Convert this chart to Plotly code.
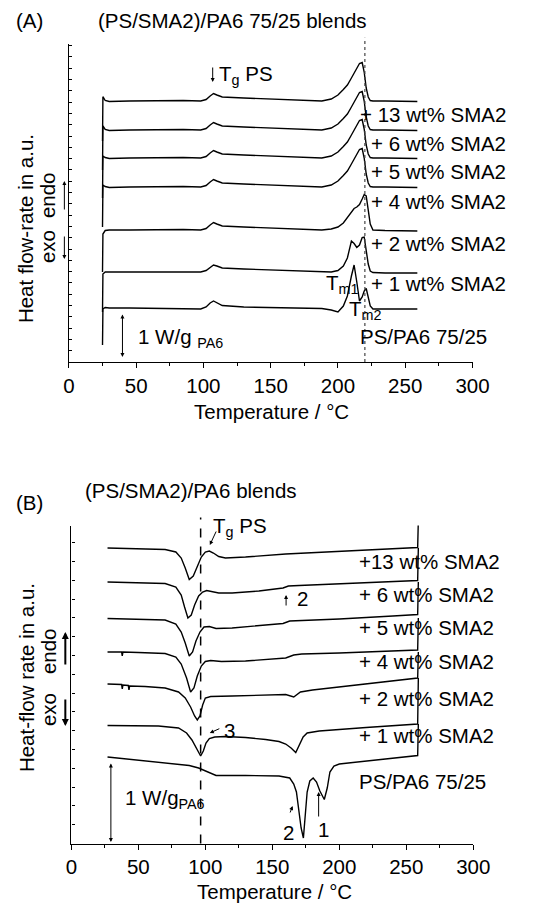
import plotly.graph_objects as go

W, H = 534, 904
FONT = "Liberation Sans, Arial, Helvetica, sans-serif"

# ---------------- Panel A : heating scans (a.u.) ----------------
TA = [25, 25.3, 27, 30, 45, 65, 85, 98, 102, 105, 107.5, 110, 114, 130, 150, 170, 188,
      195, 200, 204, 207, 210, 212, 214, 216, 218, 219.5, 221, 222.5, 224, 226, 235, 259]
A_SMA13 = [221, 265.3, 261.5, 260.5, 261, 261.5, 261.5, 261, 262.5, 266, 268.5, 267, 265, 264, 263, 262, 261,
           263, 267, 272.5, 277, 284, 288.5, 293.5, 298.5, 299.5, 290, 274, 265, 261.5, 261, 261, 260.5]
A_SMA6 = [192, 236, 232.5, 231.5, 232, 232.5, 232.5, 232, 233.5, 237, 239.5, 238, 236, 235, 234, 233, 232,
          234, 238, 243.5, 248, 255, 259.5, 264.5, 269.5, 270.5, 261, 245, 236, 232.5, 232, 232, 231.5]
A_SMA5 = [164, 206, 204.5, 203.5, 204, 204.5, 204.5, 204, 205.5, 209, 211.5, 210, 208, 207, 206, 205, 204,
          206, 210, 215.5, 220, 227, 231.5, 236.5, 241.5, 242.5, 233, 217, 208, 204.5, 204, 204, 203.5]
A_SMA4 = [135, 177, 175.5, 174.5, 175, 175.5, 175.5, 175, 176.5, 180, 182.5, 181, 179, 178, 177, 176, 175,
          177, 181, 186.5, 191, 198, 202.5, 207.5, 212.5, 213.5, 204, 188, 179, 175.5, 175, 175, 174.5]
A_SMA2 = [90, 128, 131.5, 132, 132, 132.5, 132.5, 132, 133.5, 137, 139.5, 138, 136, 135, 134, 133, 132,
          133, 135, 139, 144, 150, 153.5, 155, 157.5, 163, 167.5, 166, 152, 138, 132, 131.5, 131]
A_SMA1 = [50, 88, 90, 90, 90, 90.5, 90.5, 90, 91.5, 95, 97, 96, 94, 93, 92, 91, 90,
          90, 91.5, 96, 104, 121, 118.5, 114.5, 117, 124.5, 125, 112, 98, 91, 89.5, 89, 89]
A_SMA0 = [17, 53, 54.5, 54, 54, 53.5, 53, 53, 55, 59, 61, 59, 56.5, 55, 54.5, 54, 53.5,
          52, 50, 56, 66, 86, 97, 80, 61, 65, 71, 73.5, 64, 56, 53, 53, 53]
A_LABELS = ["+ 13 wt% SMA2", "+ 6 wt% SMA2", "+ 5 wt% SMA2", "+ 4 wt% SMA2",
            "+ 2 wt% SMA2", "+ 1 wt% SMA2", "PS/PA6 75/25"]

# ---------------- Panel B : cooling scans (a.u.) ----------------
T13B = [27, 50, 70, 78, 82, 85, 88, 91, 94, 97, 100, 103, 106, 110, 115, 130, 160, 200, 240, 258.5, 259]
B_SMA13 = [295.5, 295, 294, 291.5, 285.5, 275.5, 264, 267.5, 277.5, 286.5, 291.5, 292.5, 290.5, 287,
           285.5, 286.5, 289.5, 292, 294.5, 296, 323.5]
T6B = [27, 50, 70, 78, 82, 84.5, 87, 89.5, 92, 95, 98, 101, 105, 110, 120, 140, 158, 162, 170, 200, 240, 258.5, 259]
B_SMA6 = [261.5, 261, 260, 256.5, 248.5, 236.5, 225.5, 228.5, 238.5, 247.5, 251.5, 253, 252, 250.5,
          250.5, 252.5, 255.5, 257.5, 258, 259.5, 261.5, 263, 295.5]
T5B = [27, 50, 70, 78, 82, 85, 88, 90.5, 93, 96, 99, 103, 108, 120, 140, 158, 163, 200, 240, 258.5, 259]
B_SMA5 = [225, 224.5, 223.5, 219.5, 211.5, 200.5, 187.5, 191.5, 202.5, 211.5, 216.5, 217, 215, 215.5,
          217.5, 220, 222.5, 224.5, 227.5, 229, 261.5]
T4B = [27, 37.5, 38, 38.5, 50, 70, 78, 82, 86, 89, 91.5, 94, 97, 100, 104, 112, 130, 150, 160, 166,
       172, 200, 240, 258.5, 259]
B_SMA4 = [191.5, 191.5, 187.5, 191.5, 191, 190, 186.5, 179.5, 165.5, 151.5, 155.5, 167.5, 177.5, 182,
          183, 182, 182.5, 184, 185.5, 188.5, 189.5, 190.5, 192.5, 193.5, 225.5]
T2B = [27, 37.5, 38, 38.5, 42.5, 43, 43.5, 55, 70, 80, 85, 89, 92, 94, 96, 98, 100, 104, 120, 150,
       160, 166, 171, 180, 220, 258.5, 259]
B_SMA2 = [159.5, 159, 154.5, 158.5, 158, 153.5, 157.5, 157, 155.5, 151.5, 145.5, 136.5, 127.5, 123.5,
          127.5, 138.5, 145.5, 147, 147.5, 148.5, 149, 146.5, 151.5, 153.5, 159.5, 165.5, 191.5]
T1B = [27, 65, 80, 86, 90, 93, 96.5, 98.5, 100.5, 103, 107, 115, 130, 145, 155, 160, 164, 167.5, 170,
       173, 176, 185, 220, 258.5, 259]
B_SMA1 = [118, 117.5, 115.5, 110.5, 103.5, 95.5, 87.5, 92.5, 100.5, 105, 106.5, 107, 106, 104, 102,
          99.5, 95.5, 91, 97.5, 106.5, 110.5, 112.5, 116, 119.5, 165.5]
T0B = [27, 50, 70, 88, 95, 100, 105, 108, 130, 155, 163, 166, 168, 170, 171.5, 173.2, 174.5, 176, 178,
       180.5, 183, 185.5, 188.8, 191, 193, 196, 200, 230, 258.5, 259]
B_SMA0 = [86.5, 83.5, 81, 78, 75.5, 72.5, 69, 68, 68, 67.5, 65.5, 59.5, 51.5, 31.5, 15.5, 5.5, 25.5,
          51.5, 62.5, 65.5, 61.5, 52.5, 44, 55.5, 71.5, 77.5, 79.5, 83.5, 88, 119.5]
B_LABELS = ["+13 wt% SMA2", "+ 6 wt% SMA2", "+ 5 wt% SMA2", "+ 4 wt% SMA2",
            "+ 2 wt% SMA2", "+ 1 wt% SMA2", "PS/PA6 75/25"]

X_TICKS = [0, 50, 100, 150, 200, 250, 300]

fig = go.Figure()
line = dict(color="black", width=1.4)
for ys in [A_SMA13, A_SMA6, A_SMA5, A_SMA4, A_SMA2, A_SMA1, A_SMA0]:
    fig.add_trace(go.Scatter(x=TA, y=ys, mode="lines", line=line, xaxis="x", yaxis="y",
                             hoverinfo="skip", showlegend=False))
for xs, ys in [(T13B, B_SMA13), (T6B, B_SMA6), (T5B, B_SMA5), (T4B, B_SMA4),
               (T2B, B_SMA2), (T1B, B_SMA1), (T0B, B_SMA0)]:
    fig.add_trace(go.Scatter(x=xs, y=ys, mode="lines", line=line, xaxis="x2", yaxis="y2",
                             hoverinfo="skip", showlegend=False))

FS = 20.5

def xax(dom, anchor):
    return dict(domain=dom, anchor=anchor, range=[0, 300], tickvals=X_TICKS,
                ticks="outside", ticklen=5, tickwidth=1.2, tickcolor="black",
                minor=dict(ticks="outside", ticklen=3, tickwidth=1.2, dtick=25, tick0=0, tickcolor="black"),
                showline=True, linecolor="black", linewidth=1.3, showgrid=False, zeroline=False,
                tickfont=dict(size=FS, family=FONT, color="black"))

def yax(dom, anchor, dt):
    return dict(domain=dom, anchor=anchor, range=[0, 318], showticklabels=False,
                ticks="inside", ticklen=3, tickwidth=1, tickcolor="black", tickmode="linear",
                tick0=0, dtick=dt, showline=True, linecolor="black", linewidth=1.3,
                showgrid=False, zeroline=False)

fig.update_layout(
    width=W, height=H, margin=dict(l=0, r=0, t=0, b=0),
    paper_bgcolor="white", plot_bgcolor="white", showlegend=False,
    xaxis=xax([65.7 / W, 487.5 / W], "y"),
    yaxis=yax([(H - 362) / H, (H - 44) / H], "x", 11.3),
    xaxis2=xax([68.3 / W, 488.3 / W], "y2"),
    yaxis2=yax([(H - 843.5) / H, (H - 525.5) / H], "x2", 18.8),
)

fig.add_shape(type="line", xref="x", yref="y domain", x0=220, x1=220, y0=0, y1=1.02,
              line=dict(color="#444", width=1.2, dash="dot"))
fig.add_shape(type="line", xref="x2", yref="y2 domain", x0=96.5, x1=96.5, y0=0, y1=1.025,
              line=dict(color="black", width=1.5, dash="dash"))

ann = []
def txt(x, y, s, size=FS, xanchor="left", angle=0):
    ann.append(dict(x=x / W, y=1 - y / H, xref="paper", yref="paper", text=s, showarrow=False,
                    xanchor=xanchor, yanchor="middle", textangle=angle,
                    font=dict(size=size, family=FONT, color="black")))

def arrow(x0, y0, x1, y1, both=False, width=1.0, size=1.0):
    ann.append(dict(x=x1 / W, y=1 - y1 / H, xref="paper", yref="paper", ax=x0 - x1, ay=y0 - y1,
                    axref="pixel", ayref="pixel", text="", showarrow=True, arrowhead=2,
                    arrowsize=size, arrowwidth=width, arrowcolor="black",
                    arrowside="end+start" if both else "end", standoff=0, startstandoff=0))

# ---- Panel A texts
txt(25, 21, "(A)", xanchor="center")
txt(94, 21, "(PS/SMA2)/PA6 75/25 blends")
txt(221, 75, "T<sub>g</sub> PS")
arrow(216, 66, 216, 82, size=0.8)
for lab, yy in zip(A_LABELS, [114, 143, 172, 201, 243, 283, 337]):
    if lab.startswith("PS"):
        txt(368, yy, lab)
    else:
        txt(525, yy, lab, xanchor="right")
txt(332, 284, "T<sub>m1</sub>")
txt(356, 310, "T<sub>m2</sub>")
arrow(121.7, 313, 121.7, 357, both=True, size=0.8)
txt(136, 338, "1 W/g <sub>PA6</sub>")
txt(21, 229, "Heat flow-rate in a.u.", angle=-90, xanchor="center")
txt(44, 195, "endo", angle=-90, xanchor="center")
txt(44, 247, "exo", angle=-90, xanchor="center")
arrow(61, 211, 61, 181, size=0.8)
arrow(61, 235, 61, 259, size=0.8)
txt(277, 412, "Temperature / °C", xanchor="center")

# ---- Panel B texts
txt(25, 503, "(B)", xanchor="center")
txt(80, 490, "(PS/SMA2)/PA6 blends")
txt(214, 527, "T<sub>g</sub> PS")
arrow(220, 530, 213, 545, size=0.8)
for lab, yy in zip(B_LABELS, [561, 594, 627, 661, 698, 735, 781]):
    txt(367, yy, lab)
arrow(292.7, 607, 292.7, 595, size=0.8)
txt(302, 598, "2")
arrow(224, 728, 213, 733, size=0.8)
txt(226, 730, "3")
arrow(296.5, 814, 299.5, 806, size=0.8)
txt(295, 832, "2", xanchor="center")
arrow(326.7, 818, 326.7, 792, size=0.8)
txt(331.7, 829, "1", xanchor="center")
arrow(109.6, 762, 109.6, 842, both=True, size=0.8)
txt(122, 799, "1 W/g<sub>PA6</sub>")
txt(21, 678, "Heat-flow rate in a.u.", angle=-90, xanchor="center")
txt(44, 651, "endo", angle=-90, xanchor="center")
txt(44, 710, "exo", angle=-90, xanchor="center")
arrow(62, 666, 62, 632, width=2, size=0.7)
arrow(62, 698, 62, 726, width=2, size=0.7)
txt(281, 891, "Temperature / °C", xanchor="center")

fig.update_layout(annotations=ann)
fig.write_html("out.html")
